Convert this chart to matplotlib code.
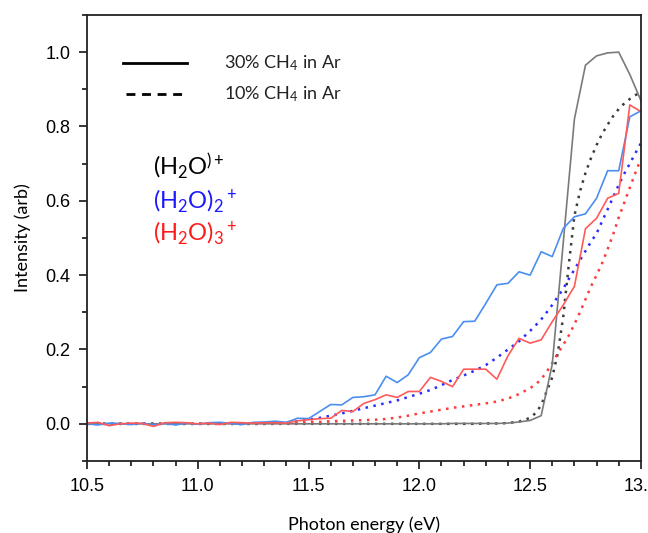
import numpy as np
import matplotlib
matplotlib.use("Agg")
import matplotlib.pyplot as plt
from matplotlib.ticker import MultipleLocator

plt.rcParams['mathtext.fontset'] = 'custom'
plt.rcParams['mathtext.rm'] = 'Lato'
plt.rcParams['mathtext.it'] = 'Lato:italic'
plt.rcParams['mathtext.bf'] = 'Lato:bold'

# measured grid (eV)
energy = [10.50, 10.55, 10.60, 10.65, 10.70, 10.75, 10.80, 10.85, 10.90, 10.95,
          11.00, 11.05, 11.10, 11.15, 11.20, 11.25, 11.30, 11.35, 11.40, 11.45,
          11.50, 11.55, 11.60, 11.65, 11.70, 11.75, 11.80, 11.85, 11.90, 11.95,
          12.00, 12.05, 12.10, 12.15, 12.20, 12.25, 12.30, 12.35, 12.40, 12.45,
          12.50, 12.55, 12.60, 12.65, 12.70, 12.75, 12.80, 12.85, 12.90, 12.95,
          13.00]

# 30% CH4 in Ar (measured, solid)
h2o_30 = [0, 0, 0, 0, 0, 0, 0, 0, 0, 0,
          0, 0, 0, 0, 0, 0, 0, 0, 0, 0,
          0, 0, 0, 0, 0, 0, 0, 0, 0, 0,
          0, 0, 0, 0.001, 0.001, 0.001, 0.001, 0.001, 0.002, 0.005,
          0.009, 0.022, 0.16, 0.49, 0.82, 0.965, 0.99, 0.998, 1.0, 0.94,
          0.87]
dimer_30 = [0.0, -0.003, 0.002, 0.001, -0.002, 0.002, -0.003, 0.001, -0.003, 0.002,
            -0.001, 0.003, 0.004, 0.001, -0.002, 0.004, 0.005, 0.007, 0.004, 0.015,
            0.014, 0.033, 0.052, 0.051, 0.071, 0.073, 0.078, 0.128, 0.111, 0.132,
            0.178, 0.192, 0.228, 0.235, 0.275, 0.276, 0.324, 0.374, 0.378, 0.409,
            0.400, 0.463, 0.450, 0.526, 0.557, 0.565, 0.607, 0.681, 0.681, 0.826,
            0.842]
trimer_30 = [0.002, 0.004, -0.005, 0.0, 0.002, 0.001, -0.007, 0.003, 0.004, 0.003,
             0.0, 0.002, -0.002, 0.004, 0.003, 0.002, 0.003, 0.003, 0.002, 0.008,
             0.011, 0.014, 0.015, 0.036, 0.033, 0.055, 0.065, 0.078, 0.071, 0.087,
             0.087, 0.125, 0.114, 0.100, 0.147, 0.147, 0.147, 0.120, 0.183, 0.230,
             0.217, 0.226, 0.275, 0.320, 0.370, 0.525, 0.553, 0.607, 0.620, 0.858,
             0.840]

# 10% CH4 in Ar (fits, dotted)
energy_fit = [10.50, 10.60, 10.70, 10.80, 10.90, 11.00, 11.10, 11.20, 11.30, 11.35,
              11.40, 11.45, 11.50, 11.55, 11.60, 11.65, 11.70, 11.75, 11.80, 11.85,
              11.90, 11.95, 12.00, 12.05, 12.10, 12.15, 12.20, 12.25, 12.30, 12.35,
              12.40, 12.45, 12.50, 12.525, 12.55, 12.575, 12.60, 12.625, 12.65, 12.675,
              12.70, 12.725, 12.75, 12.775, 12.80, 12.825, 12.85, 12.875, 12.90, 12.925,
              12.95, 12.975, 13.00]
h2o_10 = [0, 0, 0, 0, 0, 0, 0, 0, 0, 0,
          0, 0, 0, 0, 0, 0, 0, 0, 0, 0,
          0, 0, 0, 0, 0, 0, 0, 0, 0.001, 0.001,
          0.002, 0.006, 0.016, 0.029, 0.05, 0.088, 0.125, 0.19, 0.29, 0.43,
          0.56, 0.625, 0.675, 0.715, 0.75, 0.78, 0.805, 0.828, 0.847, 0.862,
          0.874, 0.884, 0.893]
dimer_10 = [0, 0, 0, 0, 0, 0, 0, 0, 0, 0.002,
            0.004, 0.007, 0.011, 0.016, 0.022, 0.028, 0.035, 0.042, 0.049, 0.056,
            0.063, 0.072, 0.081, 0.091, 0.104, 0.118, 0.130, 0.143, 0.158, 0.178,
            0.200, 0.222, 0.250, 0.265, 0.281, 0.300, 0.320, 0.342, 0.364, 0.390,
            0.415, 0.440, 0.465, 0.490, 0.512, 0.545, 0.577, 0.610, 0.643, 0.673,
            0.700, 0.728, 0.755]
trimer_10 = [0, 0, 0, 0, 0, 0, 0, 0, 0, 0,
             0, 0.002, 0.004, 0.005, 0.007, 0.008, 0.009, 0.010, 0.011, 0.013,
             0.017, 0.022, 0.028, 0.033, 0.038, 0.043, 0.047, 0.051, 0.055, 0.060,
             0.068, 0.080, 0.096, 0.106, 0.120, 0.140, 0.163, 0.190, 0.213, 0.238,
             0.268, 0.300, 0.335, 0.370, 0.400, 0.432, 0.470, 0.510, 0.555, 0.595,
             0.635, 0.675, 0.713]

xticks = [10.5, 11.0, 11.5, 12.0, 12.5, 13.0]
yticks = [0.0, 0.2, 0.4, 0.6, 0.8, 1.0]

fig = plt.figure(figsize=(6.48, 5.33), dpi=100)
ax = fig.add_axes([0.1343, 0.1351, 0.8547, 0.8368])

dot = (0, (1, 2.2))
ax.plot(energy_fit, h2o_10, color='#3a3a3a', lw=1.8, ls=dot)
ax.plot(energy_fit, dimer_10, color='#2b2bff', lw=1.8, ls=dot)
ax.plot(energy_fit, trimer_10, color='#ff3a3a', lw=1.8, ls=dot)
ax.plot(energy, h2o_30, color='#7a7a7a', lw=1.2)
ax.plot(energy, dimer_30, color='#4a8ff0', lw=1.2)
ax.plot(energy, trimer_30, color='#ff5a5a', lw=1.2)

ax.set_xlim(10.5, 13.0)
ax.set_ylim(-0.1, 1.1)
ax.set_xticks(xticks)
ax.set_yticks(yticks)
ax.set_xticklabels([f"{v:.1f}" for v in xticks], family='Liberation Sans', fontsize=13)
ax.set_yticklabels([f"{v:.1f}" for v in yticks], family='Liberation Sans', fontsize=13)
ax.xaxis.set_minor_locator(MultipleLocator(0.1))
ax.yaxis.set_minor_locator(MultipleLocator(0.1))
ax.tick_params(which='major', direction='out', length=6, width=1.1, pad=6)
ax.tick_params(which='minor', direction='out', length=3.5, width=1.1)
for s in ax.spines.values():
    s.set_linewidth(1.3)
    s.set_color('#222222')

ax.set_xlabel('Photon energy (eV)', family='Lato', fontsize=13, labelpad=16)
ax.set_ylabel('Intensity (arb)', family='Lato', fontsize=13, labelpad=10)

# legend-like annotations
ax.plot([0.065, 0.18], [0.893, 0.893], transform=ax.transAxes, color='black', lw=2)
ax.plot([0.07, 0.183], [0.823, 0.823], transform=ax.transAxes, color='black', lw=2,
        ls=(0, (3.2, 2.4)))
ax.text(0.247, 0.893, r'30% CH$_4$ in Ar', transform=ax.transAxes, family='Lato',
        fontsize=13, va='center', color='#222222')
ax.text(0.247, 0.823, r'10% CH$_4$ in Ar', transform=ax.transAxes, family='Lato',
        fontsize=13, va='center', color='#222222')

ax.text(0.119, 0.641, r'(H$_2$O$^{)+}$', transform=ax.transAxes, family='Lato',
        fontsize=17, va='baseline', color='black')
ax.text(0.119, 0.567, r'(H$_2$O)$_2$$^+$', transform=ax.transAxes, family='Lato',
        fontsize=17, va='baseline', color='#1a1aff')
ax.text(0.119, 0.496, r'(H$_2$O)$_3$$^+$', transform=ax.transAxes, family='Lato',
        fontsize=17, va='baseline', color='#ff1a1a')

fig.savefig('out.png', dpi=100)
